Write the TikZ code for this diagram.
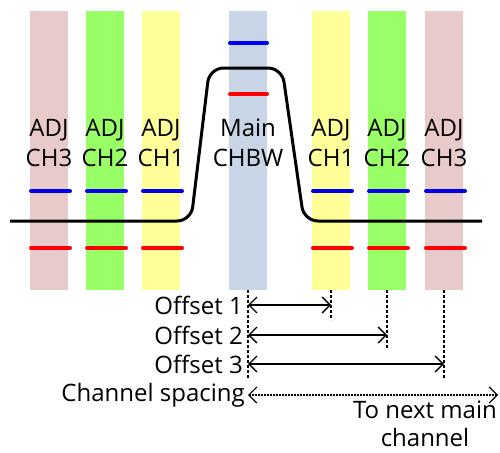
\documentclass[tikz,border=0pt]{standalone}
\usepackage{fontspec}
\setmainfont{Open Sans}
\usetikzlibrary{arrows.meta}
\definecolor{cpink}{HTML}{E8CACA}
\definecolor{cgreen}{HTML}{99FF66}
\definecolor{cyellow}{HTML}{FFFF99}
\definecolor{cmain}{HTML}{C8D5E6}
\definecolor{cblue}{HTML}{0000EE}
\definecolor{cred}{HTML}{FF0000}
\tikzset{
  band/.style={fill=#1, draw=none},
  lvlblue/.style={draw=cblue, line width=4pt, line cap=round},
  lvlred/.style={draw=cred, line width=4pt, line cap=round},
  lbl/.style={font=\fontsize{24}{30}\selectfont, align=center, inner sep=0pt},
  guide/.style={line width=1.2pt, dash pattern=on 3pt off 2pt},
  dim/.style={line width=1.3pt, {Straight Barb[length=8pt,width=16pt]}-{Straight Barb[length=8pt,width=16pt]}},
  spacing/.style={line width=1.2pt, dash pattern=on 1.5pt off 1.5pt, {Straight Barb[length=8pt,width=16pt]}-{Straight Barb[length=8pt,width=16pt]}}
}
\begin{document}
\begin{tikzpicture}[x=1pt,y=-1pt]
\useasboundingbox (0,0) rectangle (500,452);
% bands
\fill[band=cpink] (30,11) rectangle (68,290);
\fill[band=cgreen] (86,11) rectangle (124,290);
\fill[band=cyellow] (142,11) rectangle (180,290);
\fill[band=cmain] (229,11) rectangle (267,290);
\fill[band=cyellow] (312,11) rectangle (350,290);
\fill[band=cgreen] (368,11) rectangle (406,290);
\fill[band=cpink] (425,11) rectangle (463,290);
% level lines
\foreach \x in {31,87,143,313,369,426}{
  \draw[lvlblue] (\x,191) -- ++(39,0);
  \draw[lvlred] (\x,248) -- ++(39,0);
}
\draw[lvlblue] (230,43) -- (267,43);
\draw[lvlred] (230,94) -- (267,94);
% spectrum
\draw[line width=3pt, rounded corners=14pt] (10,221) -- (191,221) -- (209.5,68) -- (282,68) -- (304,221) -- (482,221);
% labels
\node[lbl] (a3) at (49,143) {ADJ\\CH3};
\node[lbl] (a2) at (105,143) {ADJ\\CH2};
\node[lbl] (a1) at (161,143) {ADJ\\CH1};
\node[lbl] (mn) at (248,143) {Main\\CHBW};
\node[lbl] (b1) at (331,143) {ADJ\\CH1};
\node[lbl] (b2) at (387,143) {ADJ\\CH2};
\node[lbl] (b3) at (444,143) {ADJ\\CH3};
% guides
\coordinate (m0) at (248,290);
\coordinate (m1) at (248,378);
\coordinate (g1t) at (331,290);
\coordinate (g1b) at (331,320);
\coordinate (g2t) at (387,290);
\coordinate (g2b) at (387,349);
\coordinate (g3t) at (444,290);
\coordinate (g3b) at (444,378);
\draw[guide] (m0) -- (m1);
\draw[guide] (g1t) -- (g1b);
\draw[guide] (g2t) -- (g2b);
\draw[guide] (g3t) -- (g3b);
% dimension arrows
\coordinate (o1s) at (248,305); \coordinate (o1e) at (331,305);
\coordinate (o2s) at (248,335); \coordinate (o2e) at (387,335);
\coordinate (o3s) at (248,364); \coordinate (o3e) at (444,364);
\coordinate (css) at (248,395); \coordinate (cse) at (498,395);
\draw[dim] (o1s) -- (o1e);
\draw[dim] (o2s) -- (o2e);
\draw[dim] (o3s) -- (o3e);
\draw[spacing] (css) -- (cse);
\node[lbl, anchor=east] (t1) at (243,305) {Offset 1};
\node[lbl, anchor=east] (t2) at (243,335) {Offset 2};
\node[lbl, anchor=east] (t3) at (243,364) {Offset 3};
\node[lbl, anchor=east] (t4) at (245,395) {Channel spacing};
\node[lbl, font=\fontsize{24}{28}\selectfont] (t5) at (425,424) {To next main\\channel};
\end{tikzpicture}
\end{document}
